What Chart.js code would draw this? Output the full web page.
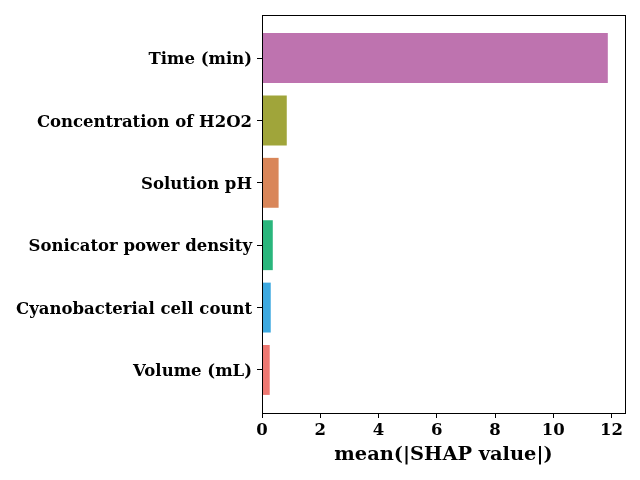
<!DOCTYPE html>
<html>
<head>
<meta charset="utf-8">
<script src="https://cdn.jsdelivr.net/npm/chart.js@4"></script>
<style>
  html, body { margin: 0; padding: 0; background: #ffffff; }
  canvas { display: block; }
</style>
</head>
<body>
<canvas id="shapChart" width="640" height="480"></canvas>
<script>
// features, top to bottom
const features = ["Time (min)", "Concentration of H2O2", "Solution pH",
    "Sonicator power density", "Cyanobacterial cell count", "Volume (mL)"];
const shapValues = [11.87, 0.85, 0.57, 0.37, 0.30, 0.265];
const barColors = ["#be73af", "#a0a53a", "#d98659", "#2ab67c", "#3da9e0", "#ee7872"];
const xTicks = [0, 2, 4, 6, 8, 10, 12];

const serif = "'DejaVu Serif', serif";

// full box round the plot area, like matplotlib spines
const frame = {
    id: "frame",
    afterDraw(chart) {
        const a = chart.chartArea;
        const ctx = chart.ctx;
        ctx.save();
        ctx.strokeStyle = "#000000";
        ctx.lineWidth = 1;
        ctx.strokeRect(Math.round(a.left) + 0.5, Math.round(a.top) + 0.5,
            Math.round(a.right - a.left), Math.round(a.bottom - a.top));
        ctx.restore();
    },
};

document.addEventListener("DOMContentLoaded", function () {
    const ctx = document.getElementById("shapChart").getContext("2d");
    new Chart(ctx, {
        type: "bar",
        data: {
            datasets: [
                {
                    label: "mean(|SHAP value|)",
                    data: shapValues.map((v, i) => ({ x: v, y: i })),
                    backgroundColor: barColors,
                    borderWidth: 0,
                    categoryPercentage: 1,
                    barPercentage: 0.8,
                },
            ],
        },
        options: {
            indexAxis: "y",
            responsive: false,
            animation: false,
            devicePixelRatio: 1,
            layout: { padding: { top: 15, right: 15, left: 0, bottom: 0 } },
            plugins: {
                legend: { display: false },
                tooltip: { enabled: false },
            },
            scales: {
                y: {
                    type: "linear",
                    reverse: true,
                    offset: false,
                    min: -0.69,
                    max: 5.69,
                    afterBuildTicks: (axis) => {
                        axis.ticks = features.map((f, i) => ({ value: i }));
                    },
                    afterFit: (axis) => {
                        axis.width = 262;
                    },
                    ticks: {
                        callback: (value) => features[value],
                        autoSkip: false,
                        color: "#000000",
                        padding: 5,
                        labelOffset: 2,
                        font: { family: serif, size: 16.5, weight: "bold" },
                    },
                    grid: {
                        offset: false,
                        drawOnChartArea: false,
                        drawTicks: true,
                        tickLength: 5,
                        color: "#000000",
                    },
                    border: { display: true, color: "#000000", width: 1 },
                },
                x: {
                    type: "linear",
                    min: 0,
                    max: 12.46,
                    afterBuildTicks: (axis) => {
                        axis.ticks = xTicks.map((t) => ({ value: t }));
                    },
                    afterFit: (axis) => {
                        axis.height = 67;
                    },
                    ticks: {
                        autoSkip: false,
                        color: "#000000",
                        padding: 3,
                        maxRotation: 0,
                        font: { family: serif, size: 16.5, weight: "bold" },
                    },
                    grid: {
                        drawOnChartArea: false,
                        drawTicks: true,
                        tickLength: 5,
                        color: "#000000",
                    },
                    border: { display: true, color: "#000000", width: 1 },
                    title: {
                        display: true,
                        text: "mean(|SHAP value|)",
                        color: "#000000",
                        padding: { top: 2, bottom: 13 },
                        font: { family: serif, size: 19.4, weight: "bold" },
                    },
                },
            },
        },
        plugins: [frame],
    });
});
</script>
</body>
</html>
